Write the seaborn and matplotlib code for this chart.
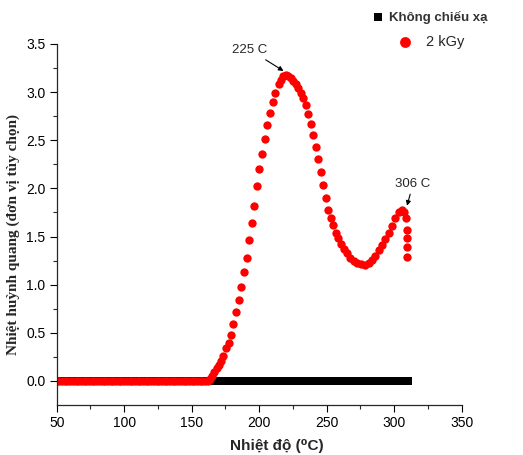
import numpy as np
import pandas as pd
import matplotlib
matplotlib.use("Agg")
import matplotlib.pyplot as plt
import seaborn as sns

# Unirradiated sample: flat baseline (temperature in C, intensity)
temp_unirr = [
    50, 52, 54, 56, 58, 60, 62, 64, 66, 68, 70, 72, 74, 76, 78, 80, 82, 84, 86, 88,
    90, 92, 94, 96, 98, 100, 102, 104, 106, 108, 110, 112, 114, 116, 118, 120, 122, 124, 126, 128,
    130, 132, 134, 136, 138, 140, 142, 144, 146, 148, 150, 152, 154, 156, 158, 160, 162, 164, 166, 168,
    170, 172, 174, 176, 178, 180, 182, 184, 186, 188, 190, 192, 194, 196, 198, 200, 202, 204, 206, 208,
    210, 212, 214, 216, 218, 220, 222, 224, 226, 228, 230, 232, 234, 236, 238, 240, 242, 244, 246, 248,
    250, 252, 254, 256, 258, 260, 262, 264, 266, 268, 270, 272, 274, 276, 278, 280, 282, 284, 286, 288,
    290, 292, 294, 296, 298, 300, 302, 304, 306, 308, 310,
]
tl_unirr = [0.0] * len(temp_unirr)

# 2 kGy sample
temp_2kgy = [
    50, 52, 54, 56, 58, 60, 62, 64, 66, 68, 70, 72, 74, 76, 78, 80, 82, 84, 86, 88,
    90, 92, 94, 96, 98, 100, 102, 104, 106, 108, 110, 112, 114, 116, 118, 120, 122, 124, 126, 128,
    130, 132, 134, 136, 138, 140, 142, 144, 146, 148, 150, 152, 154, 156, 158, 160, 162,
    163.5, 165.0, 166.6, 168.4, 170.1, 171.6, 173.3,
    175.5, 177.5, 179.0, 180.9, 182.9, 184.9, 186.8, 188.8, 190.8, 192.6,
    194.8, 196.5, 198.5, 200.2, 202.4, 204.2, 205.9, 208.1, 210.1, 212.0,
    214.3, 216.3, 218.0, 219.8, 221.7, 223.7, 225.4, 227.2, 229.1, 230.9,
    232.8, 234.3, 236.3, 238.0, 239.8, 242.0, 243.7, 245.7, 247.6, 249.6,
    251.3, 253.3, 255.0, 257.0, 258.7, 260.8, 262.5, 265.0, 267.4, 269.9,
    272.4, 275.6, 278.5, 281.0, 283.5, 286.0, 288.4, 290.9, 293.4, 295.8,
    298.3, 300.8, 303.2, 305.7, 307.5, 308.9, 309.5, 309.5, 309.5, 309.5,
]
tl_2kgy = [0.0] * 57 + [
    0.02, 0.05, 0.09, 0.13, 0.17, 0.21, 0.26,
    0.34, 0.39, 0.48, 0.59, 0.72, 0.84, 0.98, 1.13, 1.28, 1.46,
    1.64, 1.82, 2.02, 2.20, 2.36, 2.51, 2.66, 2.78, 2.90, 2.99,
    3.08, 3.13, 3.17, 3.18, 3.17, 3.15, 3.12, 3.08, 3.04, 2.99,
    2.94, 2.87, 2.77, 2.67, 2.55, 2.43, 2.31, 2.17, 2.04, 1.90,
    1.78, 1.69, 1.62, 1.54, 1.48, 1.42, 1.37, 1.33, 1.28, 1.25,
    1.23, 1.21, 1.20, 1.22, 1.26, 1.30, 1.36, 1.41, 1.47, 1.54,
    1.61, 1.69, 1.75, 1.78, 1.76, 1.69, 1.57, 1.48, 1.39, 1.29,
]

sns.set_style("ticks")
plt.rcParams['font.family'] = ['Liberation Sans', 'DejaVu Sans']
plt.rcParams['xtick.direction'] = 'out'
plt.rcParams['ytick.direction'] = 'out'

df_unirr = pd.DataFrame({"temp": temp_unirr, "tl": tl_unirr})
df_2kgy = pd.DataFrame({"temp": temp_2kgy, "tl": tl_2kgy})

fig = plt.figure(figsize=(5.23, 4.55), dpi=100)
ax = fig.add_axes([0.1084, 0.1099, 0.7744, 0.7934])

sns.scatterplot(data=df_unirr, x="temp", y="tl", marker="s", color="black",
                s=30, linewidth=0, ax=ax, label="Không chiếu xạ")
sns.scatterplot(data=df_2kgy, x="temp", y="tl", marker="o", color="#ff0000",
                s=36, linewidth=0, ax=ax, label="2 kGy")

ax.set_xlim(50, 350)
ax.set_ylim(-0.25, 3.5)
ax.set_xticks(np.arange(50, 351, 50))
ax.set_xticks(np.arange(75, 351, 50), minor=True)
ax.set_yticks(np.arange(0, 3.51, 0.5))
ax.set_yticks(np.arange(0.25, 3.5, 0.5), minor=True)
ax.yaxis.set_major_formatter(matplotlib.ticker.FormatStrFormatter('%.1f'))
ax.tick_params(which='major', length=5, width=0.8, labelsize=10, colors='black', pad=3)
ax.tick_params(which='minor', length=3, width=0.8)
sns.despine(ax=ax)
for sp in ax.spines.values():
    sp.set_linewidth(0.9)

ax.set_xlabel("Nhiệt độ (⁰C)", fontsize=11, fontweight='bold')
ax.xaxis.set_label_coords(0.544, -0.095)
ax.set_ylabel("Nhiệt huỳnh quang (đơn vị tùy chọn)", fontsize=11,
              fontweight='bold', family=['Liberation Serif', 'DejaVu Serif'])
ax.yaxis.set_label_coords(-0.09, 0.471)

ax.annotate("225 C", xy=(218, 3.22), xytext=(206, 3.44), ha='right', va='center',
            fontsize=9.5, arrowprops=dict(arrowstyle='-|>', color='black', lw=0.8,
                                          mutation_scale=7, shrinkA=1, shrinkB=0))
ax.annotate("306 C", xy=(309.5, 1.82), xytext=(314, 2.05), ha='center', va='center',
            fontsize=9.5, arrowprops=dict(arrowstyle='-|>', color='black', lw=0.8,
                                          mutation_scale=7, shrinkA=1, shrinkB=0))

handles, labels = ax.get_legend_handles_labels()
leg1 = ax.legend(handles=[handles[0]], labels=[labels[0]], loc='center left',
                 bbox_to_anchor=(371 / 523, 1 - 17 / 455), bbox_transform=fig.transFigure,
                 frameon=False, handletextpad=0.4, borderaxespad=0, borderpad=0,
                 handlelength=1.0, markerscale=1.0,
                 prop={'size': 9.5, 'weight': 'bold'})
leg1.get_texts()[0].set_color('#333333')
ax.add_artist(leg1)
leg2 = ax.legend(handles=[handles[1]], labels=[labels[1]], loc='center left',
                 bbox_to_anchor=(398 / 523, 1 - 42 / 455), bbox_transform=fig.transFigure,
                 frameon=False, handletextpad=0.9, borderaxespad=0, borderpad=0,
                 handlelength=1.0, markerscale=1.3, prop={'size': 10.5})

fig.savefig("out.png", dpi=100)
